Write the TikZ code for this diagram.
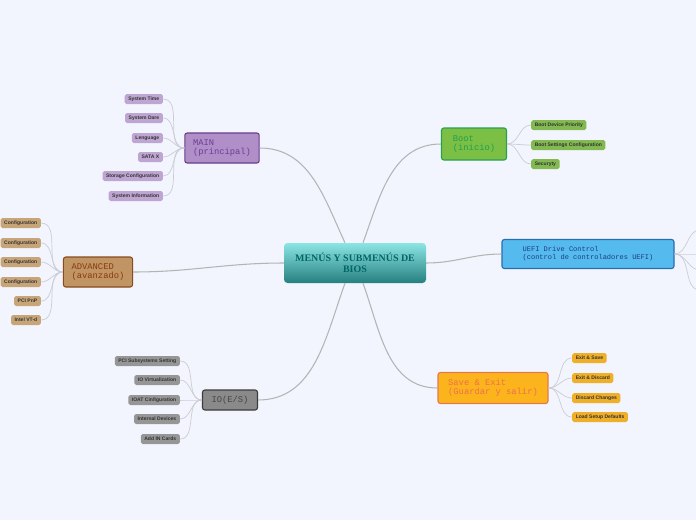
\documentclass[tikz,border=0pt]{standalone}
\usepackage{fontspec}
\setmainfont{Liberation Serif}
\setsansfont{Liberation Sans}
\setmonofont{Liberation Mono}
\usetikzlibrary{positioning}
\definecolor{bg}{HTML}{F2F5FD}
\definecolor{wire}{HTML}{B4B4B4}
\definecolor{leafwire}{HTML}{CCCCD4}
\tikzset{
  branch/.style={rectangle, rounded corners=2pt, draw, line width=0.9pt, font=\ttfamily\fontsize{7.5}{8}\selectfont, align=left, inner xsep=7pt, inner ysep=3pt},
  leaf/.style={rectangle, rounded corners=1.5pt, font=\sffamily\bfseries\fontsize{4.3}{5}\selectfont, text=black!80, inner xsep=3pt, inner ysep=2.2pt, minimum height=10*0.03cm},
  mainwire/.style={draw=wire, line width=0.9pt},
  leafwire/.style={draw=leafwire, line width=0.6pt}
}
\begin{document}
\begin{tikzpicture}[x=0.03cm, y=-0.03cm]
  \fill[bg] (0,0) rectangle (696,520);
  \useasboundingbox (0,0) rectangle (696,520);
  \clip (0,0) rectangle (696,520);

  % central topic
  \node[rectangle, rounded corners=3pt, top color=teal!45!cyan!45, bottom color=teal!70!gray, minimum width=142*0.03cm, minimum height=40*0.03cm, font=\bfseries\fontsize{8.5}{9}\selectfont, text=teal!80!black, align=center] (bios) at (355,263) {MENÚS Y SUBMENÚS DE\\BIOS};

  % main branches
  \node[branch, fill={rgb,255:red,176;green,143;blue,200}, draw={rgb,255:red,106;green,61;blue,138}, text={rgb,255:red,110;green,60;blue,150}, minimum width=71*0.03cm, minimum height=30*0.03cm] (main) at (222,148) {MAIN\\(principal)};
  \node[branch, fill={rgb,255:red,124;green,191;blue,69}, draw={rgb,255:red,40;green,160;blue,80}, text={rgb,255:red,30;green,160;blue,80}, minimum width=65*0.03cm, minimum height=32*0.03cm] (boot) at (474,144) {Boot\\(inicio)};
  \node[branch, fill={rgb,255:red,85;green,187;blue,238}, draw={rgb,255:red,42;green,108;blue,176}, text={rgb,255:red,30;green,60;blue,130}, minimum width=172*0.03cm, minimum height=29*0.03cm, font=\ttfamily\fontsize{6}{7}\selectfont] (uefi) at (588,254) {UEFI Drive Control\\(control de controladores UEFI)};
  \node[branch, fill={rgb,255:red,192;green,148;blue,99}, draw={rgb,255:red,138;green,74;blue,32}, text={rgb,255:red,138;green,58;blue,16}, minimum width=66*0.03cm, minimum height=30*0.03cm] (adv) at (98,272) {ADVANCED\\(avanzado)};
  \node[branch, fill={rgb,255:red,138;green,138;blue,138}, draw={rgb,255:red,60;green,60;blue,60}, text={rgb,255:red,70;green,70;blue,70}, minimum width=55*0.03cm, minimum height=20*0.03cm] (io) at (230,400) {IO(E/S)};
  \node[branch, fill={rgb,255:red,251;green,180;blue,28}, draw={rgb,255:red,230;green,120;blue,80}, text={rgb,255:red,240;green,110;blue,80}, minimum width=110*0.03cm, minimum height=31*0.03cm] (save) at (493,388) {Save \& Exit\\(Guardar y salir)};

  % wires from the centre
  \draw[mainwire] ([xshift=-10*0.03cm]bios.north) to[out=115, in=0] (main.east);
  \draw[mainwire] ([xshift=8*0.03cm]bios.north) to[out=70, in=180] (boot.west);
  \draw[mainwire] (bios.east) to[out=0, in=180] (uefi.west);
  \draw[mainwire] (bios.west) to[out=180, in=0] (adv.east);
  \draw[mainwire] ([xshift=-10*0.03cm]bios.south) to[out=-110, in=0] (io.east);
  \draw[mainwire] ([xshift=8*0.03cm]bios.south) to[out=-70, in=180] (save.west);

  % MAIN leaves
  \foreach \y/\t in {99/System Time, 118/System Dare, 138/Lenguage, 157/SATA X, 176/Storage Configuration, 196/System Information}{
    \node[leaf, fill={rgb,255:red,190;green,165;blue,210}, anchor=east] (m\y) at (163,\y) {\t};
    \draw[leafwire] (main.west) to[out=180, in=0] (m\y.east);
  }
  % ADVANCED leaves
  \foreach \y/\t in {223/Configuration, 243/Configuration, 262/Configuration, 282/Configuration, 301/PCI PnP, 320/Intel VT-d}{
    \node[leaf, fill={rgb,255:red,200;green,165;blue,120}, anchor=east] (a\y) at (41,\y) {\t};
    \draw[leafwire] (adv.west) to[out=180, in=0] (a\y.east);
  }
  % Boot leaves
  \foreach \y/\t in {125/Boot Device Priority, 145/Boot Settings Configuration, 164/Securyty}{
    \node[leaf, fill={rgb,255:red,130;green,185;blue,80}, anchor=west] (b\y) at (531,\y) {\t};
    \draw[leafwire] (boot.east) to[out=0, in=180] (b\y.west);
  }
  % IO leaves
  \foreach \y/\t in {361/PCI Subsystems Setting, 380/IO Virtualization, 400/IOAT Cinfiguration, 419/Internal Devices, 439/Add IN Cards}{
    \node[leaf, fill={rgb,255:red,150;green,150;blue,150}, anchor=east] (i\y) at (180,\y) {\t};
    \draw[leafwire] (io.west) to[out=180, in=0] (i\y.east);
  }
  % Save leaves
  \foreach \y/\t in {358/Exit \& Save, 378/Exit \& Discard, 398/Discard Changes, 417/Load Setup Defaults}{
    \node[leaf, fill={rgb,255:red,240;green,175;blue,40}, anchor=west] (s\y) at (572,\y) {\t};
    \draw[leafwire] (save.east) to[out=0, in=180] (s\y.west);
  }
  % UEFI leaves (outside the page)
  \foreach \y in {230,254,270,290}{
    \coordinate (u\y) at (700,\y);
    \draw[leafwire] (uefi.east) to[out=0, in=180] (u\y);
  }
\end{tikzpicture}
\end{document}
